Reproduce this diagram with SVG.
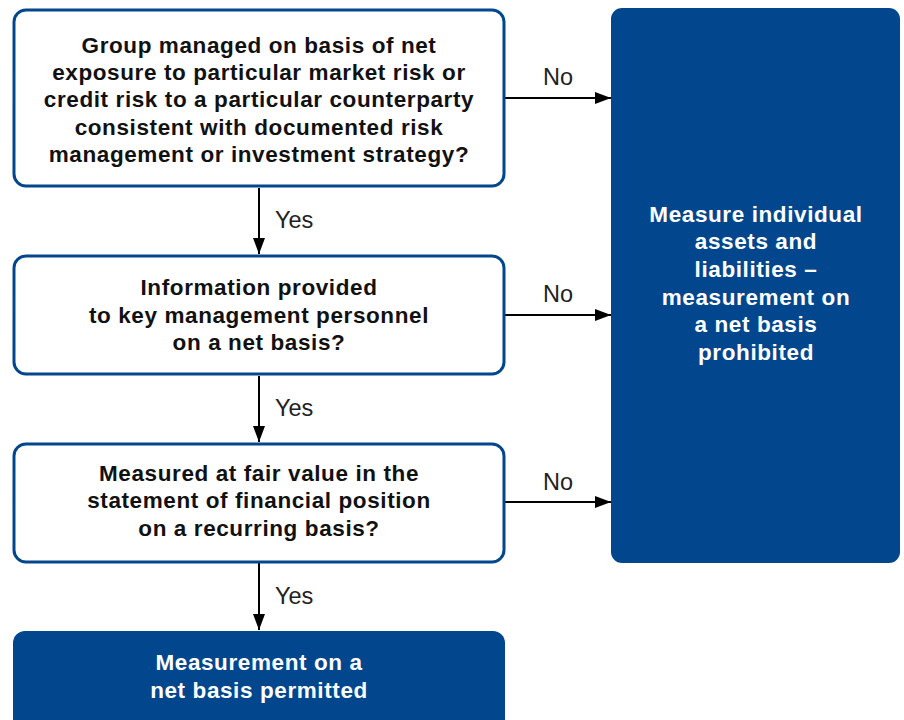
<svg xmlns="http://www.w3.org/2000/svg" width="904" height="720" viewBox="0 0 904 720">
<style>
.q{fill:#fff;stroke:#02478e;stroke-width:3}
.d{fill:#02478e}
.t{font-family:"Liberation Sans",Arial,sans-serif;font-weight:bold;font-size:22.5px;letter-spacing:0.6px;text-anchor:middle;fill:#111}
.w{fill:#fff}
.l{font-family:"Liberation Sans",Arial,sans-serif;font-size:23.5px;fill:#222}
.c{stroke:#000;stroke-width:2;fill:none;marker-end:url(#ah)}
</style>
<defs>
<marker id="ah" viewBox="0 0 16 12" refX="16" refY="6" markerWidth="16" markerHeight="12" markerUnits="userSpaceOnUse" orient="auto">
<path d="M0,0 L16,6 L0,12 z" fill="#000"/>
</marker>
</defs>
<g id="connectors">
<line class="c" x1="259" y1="188" x2="259" y2="254"/>
<line class="c" x1="259" y1="376" x2="259" y2="442"/>
<line class="c" x1="259" y1="563" x2="259" y2="630"/>
<line class="c" x1="505" y1="98" x2="611" y2="98"/>
<line class="c" x1="505" y1="315" x2="611" y2="315"/>
<line class="c" x1="505" y1="502" x2="611" y2="502"/>
<text class="l" x="275" y="228">Yes</text>
<text class="l" x="275" y="416">Yes</text>
<text class="l" x="275" y="604">Yes</text>
<text class="l" x="543" y="85">No</text>
<text class="l" x="543" y="302">No</text>
<text class="l" x="543" y="490">No</text>
</g>
<g id="q1">
<rect class="q" x="14" y="10" width="490" height="176" rx="12"/>
<text class="t" x="259" y="53">Group managed on basis of net</text>
<text class="t" x="259" y="80">exposure to particular market risk or</text>
<text class="t" x="259" y="107">credit risk to a particular counterparty</text>
<text class="t" x="259" y="135">consistent with documented risk</text>
<text class="t" x="259" y="162">management or investment strategy?</text>
</g>
<g id="q2">
<rect class="q" x="14" y="256" width="490" height="118" rx="12"/>
<text class="t" x="259" y="295">Information provided</text>
<text class="t" x="259" y="323">to key management personnel</text>
<text class="t" x="259" y="350">on a net basis?</text>
</g>
<g id="q3">
<rect class="q" x="14" y="444" width="490" height="118" rx="12"/>
<text class="t" x="259" y="481">Measured at fair value in the</text>
<text class="t" x="259" y="508">statement of financial position</text>
<text class="t" x="259" y="536">on a recurring basis?</text>
</g>
<g id="prohibited">
<rect class="d" x="611" y="8" width="289" height="555" rx="11"/>
<text class="t w" x="756" y="222">Measure individual</text>
<text class="t w" x="756" y="249">assets and</text>
<text class="t w" x="756" y="277">liabilities –</text>
<text class="t w" x="756" y="305">measurement on</text>
<text class="t w" x="756" y="332">a net basis</text>
<text class="t w" x="756" y="360">prohibited</text>
</g>
<g id="permitted">
<rect class="d" x="13" y="631" width="492" height="100" rx="12"/>
<text class="t w" x="259" y="670">Measurement on a</text>
<text class="t w" x="259" y="698">net basis permitted</text>
</g>
</svg>
